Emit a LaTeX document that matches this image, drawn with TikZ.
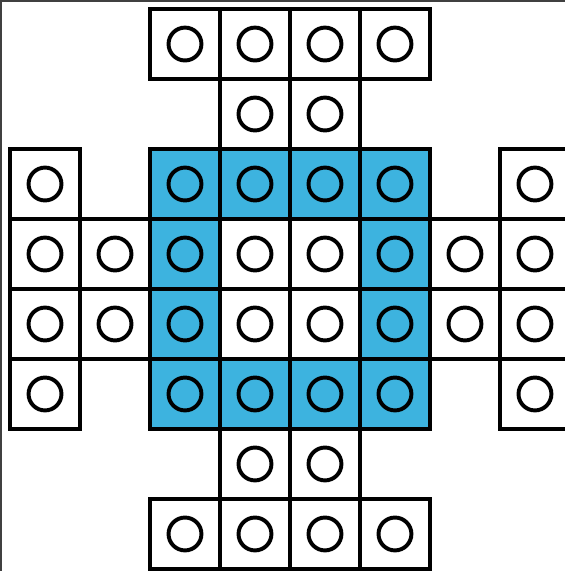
\documentclass[tikz,border=0pt]{standalone}
\usepackage{tikz}

\definecolor{tileblue}{RGB}{61,179,223}
\tikzset{
  tile/.style={draw, line width=1.7pt, minimum size=1cm, inner sep=0pt, fill=white},
  bluetile/.style={tile, fill=tileblue},
  ring/.style={circle, draw, line width=1.6pt, minimum size=0.47cm, inner sep=0pt},
  frame/.style={draw=black!75, line width=0.8pt}
}
\def\whitetiles{0/2,0/3,0/4,0/5,1/3,1/4,2/0,2/7,3/0,3/1,3/3,3/4,3/6,3/7,4/0,4/1,4/3,4/4,4/6,4/7,5/0,5/7,6/3,6/4,7/2,7/3,7/4,7/5}
\def\bluetiles{2/2,2/3,2/4,2/5,3/2,3/5,4/2,4/5,5/2,5/3,5/4,5/5}

\begin{document}
\begin{tikzpicture}
  \useasboundingbox (-0.143,0.129) rectangle (7.929,-8.029);
  \draw[frame] (-0.129,-8.029) -- (-0.129,0.114) -- (7.929,0.114);
  \foreach \r/\c in \whitetiles
    \node[tile] (t-\r-\c) at (\c+0.5,-\r-0.5) {};
  \foreach \r/\c in \bluetiles
    \node[bluetile] (t-\r-\c) at (\c+0.5,-\r-0.5) {};
  \foreach \r/\c in \whitetiles
    \node[ring] (h-\r-\c) at (t-\r-\c) {};
  \foreach \r/\c in \bluetiles
    \node[ring] (h-\r-\c) at (t-\r-\c) {};
\end{tikzpicture}
\end{document}
